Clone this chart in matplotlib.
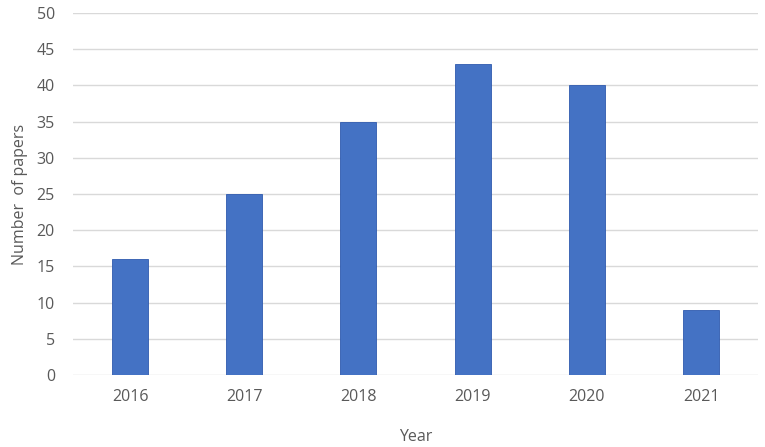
import matplotlib.pyplot as plt

years = ['2016', '2017', '2018', '2019', '2020', '2021']
papers = [16, 25, 35, 43, 40, 9]

plt.rcParams['font.family'] = ['Open Sans', 'DejaVu Sans']

fig = plt.figure(figsize=(7.65, 4.47), dpi=100)
ax = fig.add_axes([0.0954, 0.161, 0.8956, 0.810])

x = range(len(years))
ax.bar(x, papers, width=0.315, color='#4472C4', edgecolor='#2F5AAE', linewidth=0.6, zorder=3)

ax.set_xlim(-0.5, len(years) - 0.5)
ax.set_ylim(0, 50)
ax.set_yticks(range(0, 51, 5))
ax.set_xticks(list(x))
ax.set_xticklabels(years)

# excel-like gridlines, no frame
ax.grid(axis='y', color='#d9d9d9', linewidth=1, zorder=0)
for s in ax.spines.values():
    s.set_visible(False)
ax.tick_params(length=0, labelsize=11.5, colors='#595959', pad=10)
ax.tick_params(axis='y', pad=13)

ax.set_xlabel('Year', fontsize=11.5, color='#595959', labelpad=17)
ax.set_ylabel('Number  of papers', fontsize=11.5, color='#595959', labelpad=6)

fig.savefig('out.png', dpi=100)
